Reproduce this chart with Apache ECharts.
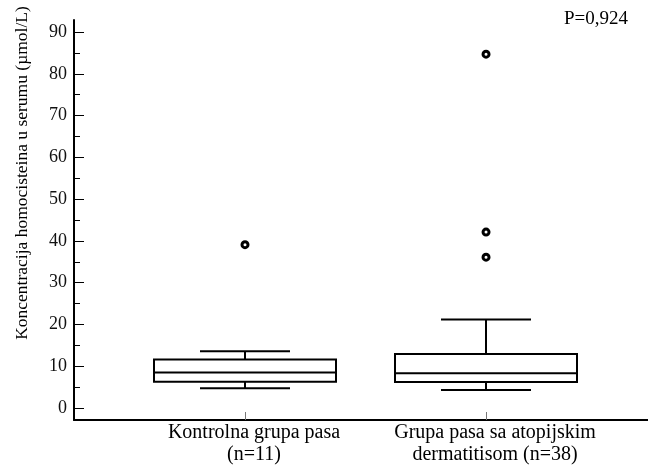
<!DOCTYPE html>
<html>
<head>
<meta charset="utf-8">
<script src="https://cdn.jsdelivr.net/npm/echarts@6/dist/echarts.min.js"></script>
<style>
html,body{margin:0;padding:0;background:#fff;}
#chart{width:648px;height:472px;}
</style>
</head>
<body>
<div id="chart"></div>
<script>
// ---- data ----
var groupPositions = [1, 2];
var groupLabels = ['Kontrolna grupa pasa\n(n=11)', 'Grupa pasa sa atopijskim\ndermatitisom (n=38)'];
var whiskerLow = [4.7, 4.3];
var q1Values = [6.3, 6.2];
var medianValues = [8.5, 8.3];
var q3Values = [11.6, 12.9];
var whiskerHigh = [13.6, 21.2];
var outlierGroup = [1, 2, 2, 2];
var outlierValues = [39.1, 84.7, 42.1, 36.1];
var yTickLabels = [0, 10, 20, 30, 40, 50, 60, 70, 80, 90];
var yMinorTicks = [5, 15, 25, 35, 45, 55, 65, 75, 85];
var yAxisTitle = 'Koncentracija homocisteina u serumu (\u00b5mol/L)';
var pValueText = 'P=0,924';

var boxData = groupPositions.map(function (g, i) {
  return [g, whiskerLow[i], q1Values[i], medianValues[i], q3Values[i], whiskerHigh[i]];
});
var outlierData = outlierGroup.map(function (g, i) { return [g, outlierValues[i]]; });

var chart = echarts.init(document.getElementById('chart'), null, {renderer: 'canvas'});
var serif = '"Liberation Serif", "Times New Roman", serif';

var BOX_HALF = 91, CAP_HALF = 45;

var option = {
  animation: false,
  backgroundColor: '#fff',
  grid: {left: 74, right: 0, top: 20, bottom: 52, containLabel: false},
  xAxis: [{
    type: 'value',
    min: 0.2905,
    max: 2.672,
    splitLine: {show: false},
    axisLine: {show: true, onZero: false, lineStyle: {color: '#000', width: 2}},
    axisTick: {show: true, inside: true, length: 8, customValues: groupPositions, lineStyle: {color: '#777', width: 1}},
    axisLabel: {
      show: true,
      customValues: groupPositions,
      margin: 2,
      fontFamily: serif,
      fontSize: 20,
      lineHeight: 22,
      color: '#000',
      align: 'center',
      padding: [0, 0, 0, 18],
      formatter: function (v) {
        var idx = groupPositions.indexOf(Math.round(v));
        return idx >= 0 ? groupLabels[idx] : '';
      }
    }
  }],
  yAxis: [{
    type: 'value',
    min: -2.87,
    max: 92.87,
    splitLine: {show: false},
    axisLine: {show: true, onZero: false, lineStyle: {color: '#000', width: 2}},
    axisTick: {show: true, inside: true, length: 10, customValues: yTickLabels, lineStyle: {color: '#000', width: 1}},
    axisLabel: {
      show: true,
      customValues: yTickLabels,
      margin: 7,
      fontFamily: serif,
      fontSize: 18,
      color: '#111'
    }
  }, {
    type: 'value',
    position: 'left',
    min: -2.87,
    max: 92.87,
    splitLine: {show: false},
    axisLine: {show: false},
    axisTick: {show: true, inside: true, length: 6, customValues: yMinorTicks, lineStyle: {color: '#000', width: 1}},
    axisLabel: {show: false}
  }],
  series: [{
    type: 'custom',
    data: boxData,
    encode: {x: 0, y: [1, 2, 3, 4, 5]},
    renderItem: function (params, api) {
      var x = api.value(0);
      var pLo = api.coord([x, api.value(1)]);
      var pQ1 = api.coord([x, api.value(2)]);
      var pMed = api.coord([x, api.value(3)]);
      var pQ3 = api.coord([x, api.value(4)]);
      var pHi = api.coord([x, api.value(5)]);
      var cx = Math.round(pMed[0]);
      var st = {stroke: '#000', lineWidth: 2, fill: null};
      return {
        type: 'group',
        children: [
          {type: 'line', shape: {x1: cx, y1: pQ3[1], x2: cx, y2: pHi[1]}, style: st},
          {type: 'line', shape: {x1: cx, y1: pQ1[1], x2: cx, y2: pLo[1]}, style: st},
          {type: 'line', shape: {x1: cx - CAP_HALF, y1: pHi[1], x2: cx + CAP_HALF, y2: pHi[1]}, style: st},
          {type: 'line', shape: {x1: cx - CAP_HALF, y1: pLo[1], x2: cx + CAP_HALF, y2: pLo[1]}, style: st},
          {type: 'rect', shape: {x: cx - BOX_HALF, y: pQ3[1], width: 2 * BOX_HALF, height: pQ1[1] - pQ3[1]},
            style: {stroke: '#000', lineWidth: 2, fill: '#fff'}},
          {type: 'line', shape: {x1: cx - BOX_HALF, y1: pMed[1], x2: cx + BOX_HALF, y2: pMed[1]}, style: st}
        ]
      };
    },
    z: 2
  }, {
    type: 'scatter',
    data: outlierData,
    symbol: 'circle',
    symbolSize: 6,
    itemStyle: {color: '#fff', borderColor: '#000', borderWidth: 3, opacity: 1},
    z: 3
  }],
  graphic: [{
    type: 'text',
    x: 22,
    y: 173,
    rotation: Math.PI / 2,
    style: {text: yAxisTitle, font: '17.5px ' + serif, fill: '#000', align: 'center', verticalAlign: 'middle'}
  }, {
    type: 'text',
    x: 628,
    y: 19,
    style: {text: pValueText, font: '19px ' + serif, fill: '#000', align: 'right', verticalAlign: 'middle'}
  }]
};
chart.setOption(option);
</script>
</body>
</html>
